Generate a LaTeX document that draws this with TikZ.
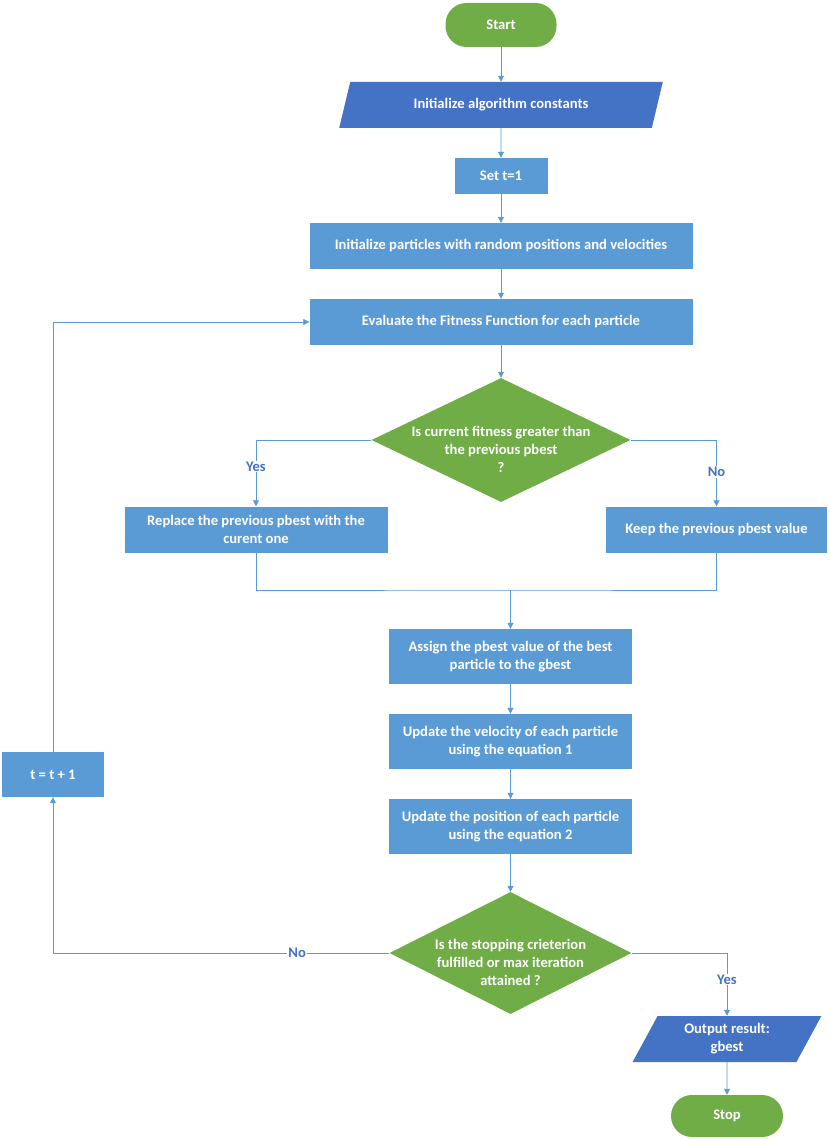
\documentclass[tikz,border=0pt]{standalone}
\usepackage{fontspec}
\setmainfont{Carlito}
\usepackage{tikz}
\usetikzlibrary{shapes.geometric,arrows.meta}
\definecolor{termgreen}{HTML}{70AD47}
\definecolor{iodark}{HTML}{4472C4}
\definecolor{procblue}{HTML}{5B9BD5}
\newcommand{\dtext}[1]{\makebox[0pt]{\smash{\raisebox{-14pt}{\begin{tabular}{@{}c@{}}#1\end{tabular}}}}}

\begin{document}
\begin{tikzpicture}[x=1pt,y=-1pt,
  font=\fontsize{14.6}{18}\selectfont\bfseries,
  term/.style={rectangle,rounded corners=21pt,fill=termgreen,text=white,minimum width=111pt,minimum height=44pt,inner sep=0pt},
  io/.style={trapezium,trapezium left angle=63.4,trapezium right angle=116.6,trapezium stretches=true,fill=iodark,text=white,inner sep=0pt,align=center},
  proc/.style={rectangle,fill=procblue,text=white,inner sep=0pt,align=center},
  decision/.style={diamond,aspect=2.09,fill=termgreen,text=white,inner sep=0pt},
  line/.style={draw=procblue,line width=0.8pt},
  arr/.style={line,-{Triangle[length=6pt,width=6pt]}},
  lbl/.style={fill=white,text=iodark,inner sep=1pt}]
\useasboundingbox (0,0) rectangle (829,1139);
\node[term] (start) at (501,25) {Start};
\node[io,minimum width=324pt,minimum height=46pt] (init) at (501,105) {Initialize algorithm constants};
\node[proc,minimum width=93pt,minimum height=36pt] (set) at (501,176) {Set t=1};
\node[proc,minimum width=383pt,minimum height=46pt] (initp) at (501,246) {Initialize particles with random positions and velocities};
\node[proc,minimum width=383pt,minimum height=46pt] (eval) at (501,322) {Evaluate the Fitness Function for each particle};
\node[decision,minimum width=259pt,minimum height=124pt] (fit) at (501,440) {\dtext{Is current fitness greater than\\the previous pbest\\?}};
\node[proc,minimum width=263pt,minimum height=46pt] (repl) at (256,529.5) {Replace the previous pbest with the\\curent one};
\node[proc,minimum width=221pt,minimum height=46pt] (keep) at (716.5,529.5) {Keep the previous pbest value};
\coordinate (merge) at (510.5,590);
\node[proc,minimum width=243pt,minimum height=55pt] (gbest) at (510.5,656.5) {Assign the pbest value of the best\\particle to the gbest};
\node[proc,minimum width=243pt,minimum height=55pt] (vel) at (510.5,741.5) {Update the velocity of each particle\\using the equation 1};
\node[proc,minimum width=243pt,minimum height=55pt] (pos) at (510.5,826.5) {Update the position of each particle\\using the equation 2};
\node[decision,minimum width=242pt,minimum height=122pt] (crit) at (510.5,953) {\dtext{Is the stopping crieterion\\fulfilled or max iteration\\attained ?}};
\node[proc,minimum width=102pt,minimum height=45pt] (incr) at (53,774.5) {t = t + 1};
\node[io,minimum width=189pt,minimum height=46pt] (out) at (727,1039) {Output result:\\gbest};
\node[term,minimum width=112pt,minimum height=42pt] (stop) at (727,1116) {Stop};
\draw[arr] (start) -- (init);
\draw[arr] (init) -- (set);
\draw[arr] (set) -- (initp);
\draw[arr] (initp) -- (eval);
\draw[arr] (eval) -- (fit);
\draw[arr] (fit.west) -| node[lbl,pos=0.7] {Yes} (repl.north);
\draw[arr] (fit.east) -| node[lbl,pos=0.74] {No} (keep.north);
\draw[line] (repl.south) |- (merge) -| (keep.south);
\draw[arr] (merge) -- (gbest);
\draw[arr] (gbest) -- (vel);
\draw[arr] (vel) -- (pos);
\draw[arr] (pos) -- (crit);
\draw[arr] (crit.east) -| node[lbl,pos=0.71] {Yes} (out.north);
\draw[arr] (out) -- (stop);
\draw[arr] (crit.west) -| node[lbl,pos=0.137] {No} (incr.south);
\draw[arr] (incr.north) |- (eval.west);
\end{tikzpicture}
\end{document}
